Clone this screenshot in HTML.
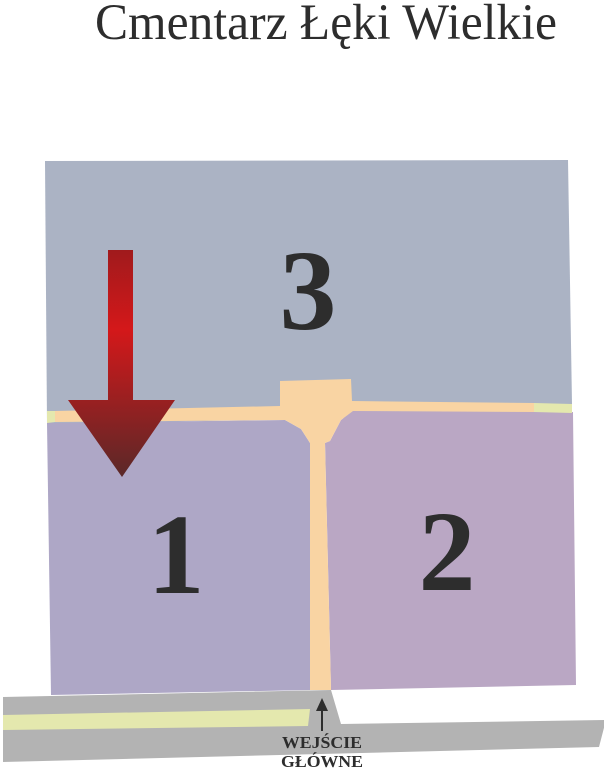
<!DOCTYPE html>
<html><head><meta charset="utf-8"><style>html,body{margin:0;padding:0;background:#fff}svg{display:block}</style></head>
<body>
<svg width="604" height="768" viewBox="0 0 604 768" xmlns="http://www.w3.org/2000/svg">
<defs>
<linearGradient id="rg" x1="0" y1="0" x2="0" y2="1">
<stop offset="0" stop-color="#a01a1c"/><stop offset="0.35" stop-color="#d4181a"/><stop offset="1" stop-color="#5a2828"/>
</linearGradient>
</defs>
<text x="95" y="39" font-family="Liberation Serif, serif" font-size="51" fill="#2d2d2d" textLength="462" lengthAdjust="spacingAndGlyphs">Cmentarz Łęki Wielkie</text>
<polygon points="45,161 568,160 572,404 570,414 47,424" fill="#abb3c4"/>
<polygon points="47,423 285,420 301,429 310,443 310,690 51,695" fill="#aea7c6"/>
<polygon points="353,411 573,412 576,685 331,690 325,443 330,441 341,420" fill="#baa7c4"/>
<polygon points="55,411 280,406 280,381 351,379 352,401 534,403 534,412 353,411 341,420 330,441 325,443 331,690 310,690 310,443 301,429 285,420 55,422" fill="#f9d4a3"/>
<polygon points="47,411 55,411 55,422 47,423" fill="#e4e8ae"/>
<polygon points="534,403 572,404 572,413 534,412" fill="#e4e8ae"/>
<polygon points="3,697 331,690 341,724 606,720 599,747 3,762" fill="#b3b3b3"/>
<polygon points="3,715 310,709 308,726 3,730" fill="#e4e8ae"/>
<polygon points="108,250 133,250 133,400 175,400 122,477 68,400 108,400" fill="url(#rg)"/>
<text x="308" y="329" text-anchor="middle" font-family="Liberation Serif, serif" font-weight="bold" font-size="114" fill="#2d2d2d">3</text>
<text x="176" y="593" text-anchor="middle" font-family="Liberation Serif, serif" font-weight="bold" font-size="114" fill="#2d2d2d">1</text>
<text x="447" y="590" text-anchor="middle" font-family="Liberation Serif, serif" font-weight="bold" font-size="114" fill="#2d2d2d">2</text>
<line x1="322" y1="731" x2="322" y2="708" stroke="#2d2d2d" stroke-width="2"/>
<polygon points="316,711 328,711 322,698" fill="#2d2d2d"/>
<text x="322" y="748" text-anchor="middle" font-family="Liberation Serif, serif" font-weight="bold" font-size="17" fill="#2d2d2d" textLength="80" lengthAdjust="spacingAndGlyphs">WEJŚCIE</text>
<text x="322" y="767" text-anchor="middle" font-family="Liberation Serif, serif" font-weight="bold" font-size="17" fill="#2d2d2d" textLength="82" lengthAdjust="spacingAndGlyphs">GŁÓWNE</text>
</svg>
</body></html>
